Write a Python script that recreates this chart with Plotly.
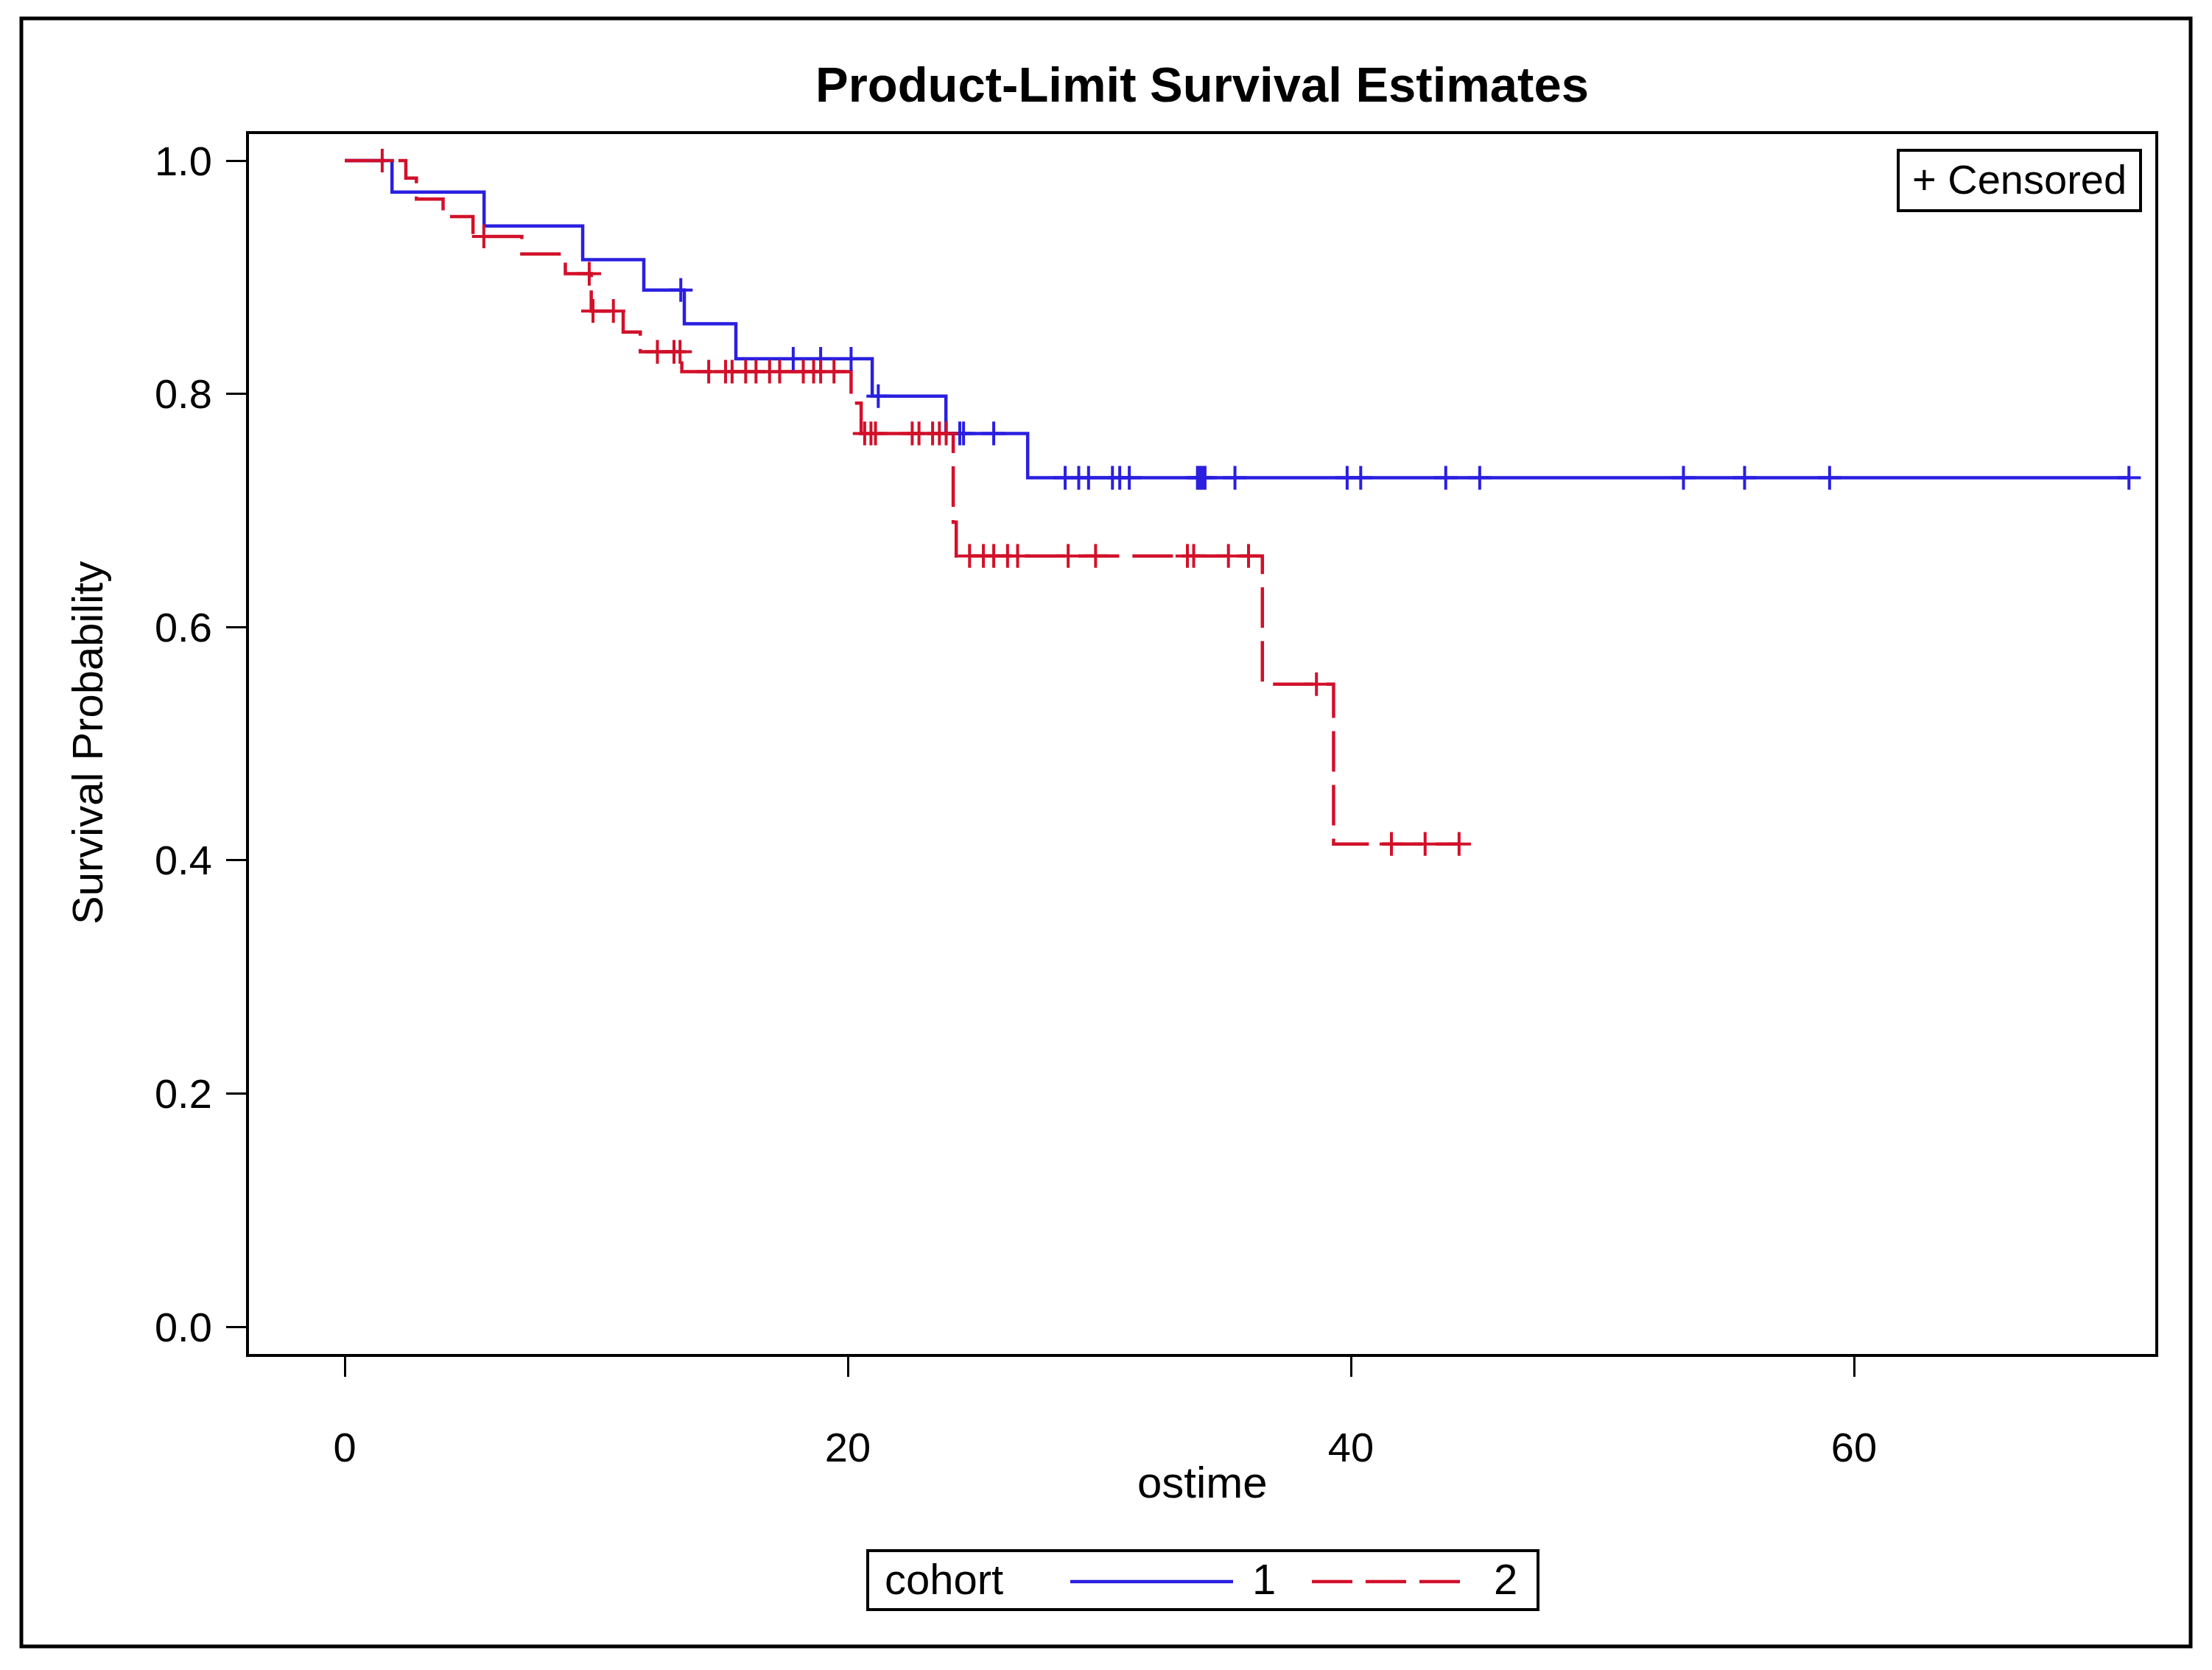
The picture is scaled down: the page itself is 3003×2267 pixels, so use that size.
import numpy as np
import plotly.graph_objects as go

# ---------------- data ----------------
# cohort 1 (blue, solid): event times and survival after each event
c1_event_t = [0.0, 1.88, 5.54, 9.46, 11.89, 13.50, 15.55, 20.97, 23.90, 27.15]
c1_surv    = [1.0, 0.973, 0.944, 0.915, 0.889, 0.860, 0.830, 0.798, 0.766, 0.728]
c1_end_t   = 70.93
c1_cens_t  = [13.36, 17.83, 18.92, 20.13, 21.21, 24.45, 24.60, 25.80,
              28.64, 29.18, 29.57, 30.52, 30.81, 31.19, 33.90, 34.00, 34.10,
              34.20, 35.39, 39.85, 40.39, 43.77, 45.12, 53.22, 55.65, 59.03, 70.93]

# cohort 2 (red, dashed)
c2_event_t = [0.0, 2.43, 2.85, 3.91, 5.10, 7.04, 8.77, 9.80, 11.07, 11.75, 13.40,
              20.13, 20.53, 24.19, 24.31, 36.48, 39.31]
c2_surv    = [1.0, 0.985, 0.967, 0.952, 0.935, 0.920, 0.903, 0.871, 0.853, 0.836, 0.819,
              0.792, 0.766, 0.690, 0.661, 0.551, 0.414]
c2_end_t   = 44.30
c2_cens_t  = [1.49, 5.53, 9.72, 9.87, 10.68, 12.43, 13.09, 13.33, 14.47, 15.14, 15.40,
              15.94, 16.35, 16.89, 17.29, 18.23, 18.64, 18.92, 19.45, 20.67, 20.92,
              21.10, 22.56, 22.83, 23.37, 23.64, 23.91, 24.84, 25.39, 25.80, 26.35,
              26.75, 28.76, 29.85, 33.50, 33.75, 35.13, 35.93, 38.63, 41.61, 42.95, 44.30]

x_ticks = [0, 20, 40, 60]
y_ticks = [0.0, 0.2, 0.4, 0.6, 0.8, 1.0]

BLUE = "#2a1fe0"
RED = "#d2102a"
FONT = "Liberation Sans, Arial, sans-serif"

W, H = 3003, 2267
L, R, T, B = 338, 2926, 182, 1838   # plot area in pixels


def px(xp):
    return (xp - L) / (R - L)


def py(yp):
    return (B - yp) / (B - T)


def step_vals(event_t, surv, t):
    idx = np.searchsorted(np.array(event_t), np.array(t), side="right") - 1
    return list(np.array(surv)[idx])


fig = go.Figure()

# step curves
fig.add_trace(go.Scatter(x=c1_event_t + [c1_end_t], y=c1_surv + [c1_surv[-1]],
                         mode="lines", line=dict(shape="hv", color=BLUE, width=4.5),
                         showlegend=False, hoverinfo="skip"))
fig.add_trace(go.Scatter(x=c2_event_t + [c2_end_t], y=c2_surv + [c2_surv[-1]],
                         mode="lines", line=dict(shape="hv", color=RED, width=4.5, dash="55px,18px"),
                         showlegend=False, hoverinfo="skip"))
# censor marks
fig.add_trace(go.Scatter(x=c1_cens_t, y=step_vals(c1_event_t, c1_surv, c1_cens_t),
                         mode="markers",
                         marker=dict(symbol="cross-thin", size=23, line=dict(color=BLUE, width=4)),
                         showlegend=False, hoverinfo="skip"))
fig.add_trace(go.Scatter(x=c2_cens_t, y=step_vals(c2_event_t, c2_surv, c2_cens_t),
                         mode="markers",
                         marker=dict(symbol="cross-thin", size=23, line=dict(color=RED, width=4)),
                         showlegend=False, hoverinfo="skip"))

x_range = [(L - 468) / 34.15, (R - 468) / 34.15]
y_range = [(1801 - B) / 1583, (1801 - T) / 1583]

axis_common = dict(showline=True, mirror=True, linewidth=4, linecolor="black",
                   ticks="outside", ticklen=27, tickwidth=3, tickcolor="black",
                   showgrid=False, zeroline=False,
                   tickfont=dict(family=FONT, size=56, color="black"))

fig.update_xaxes(range=x_range, tickvals=x_ticks, ticklabelstandoff=48, **axis_common)
fig.update_yaxes(range=y_range, tickvals=y_ticks, tickformat=".1f", ticklabelstandoff=8, **axis_common)

shapes = []
# outer border
shapes.append(dict(type="rect", xref="paper", yref="paper",
                   x0=px(29), x1=px(2974), y0=py(2235), y1=py(25),
                   line=dict(color="black", width=5)))
# bottom legend box
shapes.append(dict(type="rect", xref="paper", yref="paper",
                   x0=px(1178), x1=px(2088), y0=py(2185), y1=py(2105),
                   line=dict(color="black", width=4)))
shapes.append(dict(type="line", xref="paper", yref="paper",
                   x0=px(1453), x1=px(1674), y0=py(2147), y1=py(2147),
                   line=dict(color=BLUE, width=4.5)))
shapes.append(dict(type="line", xref="paper", yref="paper",
                   x0=px(1781), x1=px(1986), y0=py(2147), y1=py(2147),
                   line=dict(color=RED, width=4.5, dash="55px,18px")))
# censored box
shapes.append(dict(type="rect", xref="paper", yref="paper",
                   x0=px(2577), x1=px(2906), y0=py(286), y1=py(204),
                   line=dict(color="black", width=4)))

annotations = [
    dict(text="<b>Product-Limit Survival Estimates</b>", x=0.5, y=py(115), xref="paper", yref="paper",
         xanchor="center", yanchor="middle", showarrow=False,
         font=dict(family=FONT, size=67, color="black")),
    dict(text="ostime", x=px(1632), y=py(2012), xref="paper", yref="paper",
         xanchor="center", yanchor="middle", showarrow=False,
         font=dict(family=FONT, size=60, color="black")),
    dict(text="Survival Probability", x=px(118), y=py(1009), xref="paper", yref="paper",
         xanchor="center", yanchor="middle", showarrow=False, textangle=-90,
         font=dict(family=FONT, size=58, color="black")),
    dict(text="cohort", x=px(1199), y=py(2143), xref="paper", yref="paper",
         xanchor="left", yanchor="middle", showarrow=False,
         font=dict(family=FONT, size=58, color="black")),
    dict(text="1", x=px(1716), y=py(2143), xref="paper", yref="paper",
         xanchor="center", yanchor="middle", showarrow=False,
         font=dict(family=FONT, size=58, color="black")),
    dict(text="2", x=px(2044), y=py(2143), xref="paper", yref="paper",
         xanchor="center", yanchor="middle", showarrow=False,
         font=dict(family=FONT, size=58, color="black")),
    dict(text="+ Censored", x=px(2594), y=py(243), xref="paper", yref="paper",
         xanchor="left", yanchor="middle", showarrow=False,
         font=dict(family=FONT, size=56, color="black")),
]

fig.update_layout(width=W, height=H, margin=dict(l=L, r=W - R, t=T, b=H - B, autoexpand=False),
                  paper_bgcolor="white", plot_bgcolor="white",
                  shapes=shapes, annotations=annotations, showlegend=False)

fig.write_html("out.html", config={"displayModeBar": False},
               post_script="document.body.style.margin='0';document.body.style.overflow='hidden';")
